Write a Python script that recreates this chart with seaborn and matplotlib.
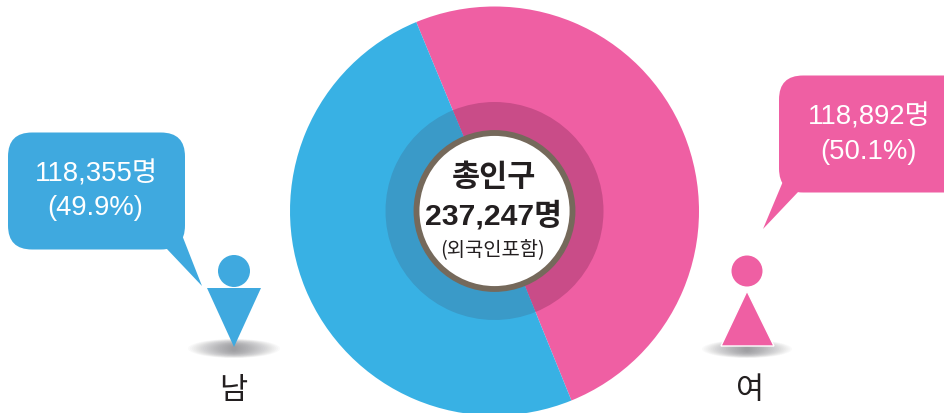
"""Total population donut with male / female call-outs."""
import matplotlib
matplotlib.use("Agg")
import matplotlib.pyplot as plt
import numpy as np
import seaborn as sns
from matplotlib.patches import Circle, Ellipse, FancyBboxPatch, Polygon

genders = ["여", "남"]
population = [118892, 118355]
shares = [50.1, 49.9]
total = 237247
colors = ["#EF5FA3", "#38B1E4"]
ring_colors = ["#C94C88", "#3A9AC8"]

sns.set_theme(style="white")
plt.rcParams["font.family"] = ["Noto Sans CJK KR", "DejaVu Sans"]
latin = ["Liberation Sans", "Noto Sans CJK KR"]

H = 414


def flip(points):
    return [(x, H - y) for x, y in points]


def bubble(ax, x0, y0, x1, y1, tail, color):
    ax.add_patch(FancyBboxPatch((x0 + 24, H - y1 + 24), x1 - x0 - 48, y1 - y0 - 48,
                                boxstyle="round,pad=24,rounding_size=24", fc=color, ec="none"))
    ax.add_patch(Polygon(flip(tail), fc=color, ec="none"))


def shadow(ax, cx, cy, w, h):
    for t in np.linspace(1, 0.06, 24):
        ax.add_patch(Ellipse((cx, H - cy), w * t, h * np.sqrt(t), fc="#4a4a50", ec="none", alpha=0.026))


fig, ax = plt.subplots(figsize=(9.44, 4.14), dpi=100)
fig.subplots_adjust(0, 0, 1, 1)

cx, cy = 494.5, H - 212
edge = {"edgecolor": "none", "linewidth": 0}
ax.pie(population, colors=colors, center=(cx, cy), radius=204.5, startangle=112.5,
       counterclock=False, wedgeprops=edge)
ax.pie(population, colors=ring_colors, center=(cx, cy), radius=109, startangle=112.5,
       counterclock=False, wedgeprops=edge)
ax.add_patch(Circle((cx, cy), 78, fc="white", ec="#75695B", lw=4.2))

ax.text(cx - 1, H - 177, "총인구", ha="center", va="center", fontsize=22, weight="bold", color="#231F20")
ax.text(cx - 1.5, H - 216, f"{total:,}명", ha="center", va="center", fontsize=21.7, weight="bold",
        family=latin, color="#231F20")
ax.text(cx - 2, H - 251, "(외국인포함)", ha="center", va="center", fontsize=14.3, color="#231F20")

bubble(ax, 8, 133.5, 185, 250.5, [(182, 236), (202, 287), (166, 249)], "#3FA9DF")
bubble(ax, 779, 76.5, 975, 193.5, [(784, 180), (763, 230), (799, 192)], colors[0])
label = {"ha": "center", "va": "center", "fontsize": 19.8, "family": latin, "color": "white"}
ax.text(96.5, H - 174, f"{population[1]:,}명", **label)
ax.text(95, H - 208, f"({shares[1]}%)", **label)
ax.text(869, H - 117, f"{population[0]:,}명", **label)
ax.text(868, H - 152, f"({shares[0]}%)", **label)

shadow(ax, 234, 349.5, 92, 19)
shadow(ax, 747, 350, 90, 18)
ax.add_patch(Circle((234, H - 272), 16, fc="#3FA9DF", ec="none"))
ax.add_patch(Polygon(flip([(207, 289), (261, 289), (234, 348)]), fc="#3FA9DF", ec="none"))
ax.add_patch(Circle((747, H - 272), 15.5, fc=colors[0], ec="none"))
ax.add_patch(Polygon(flip([(747, 292), (721, 347), (774, 347)]), fc=colors[0], ec="white", lw=1))

ax.text(233, H - 391, genders[1], ha="center", va="center", fontsize=22, color="#231F20")
ax.text(750, H - 391, genders[0], ha="center", va="center", fontsize=22, color="#231F20")

ax.set_xlim(0, 944)
ax.set_ylim(0, H)
ax.set_aspect("equal")
ax.axis("off")
fig.savefig("out.png", dpi=100)
plt.close(fig)
